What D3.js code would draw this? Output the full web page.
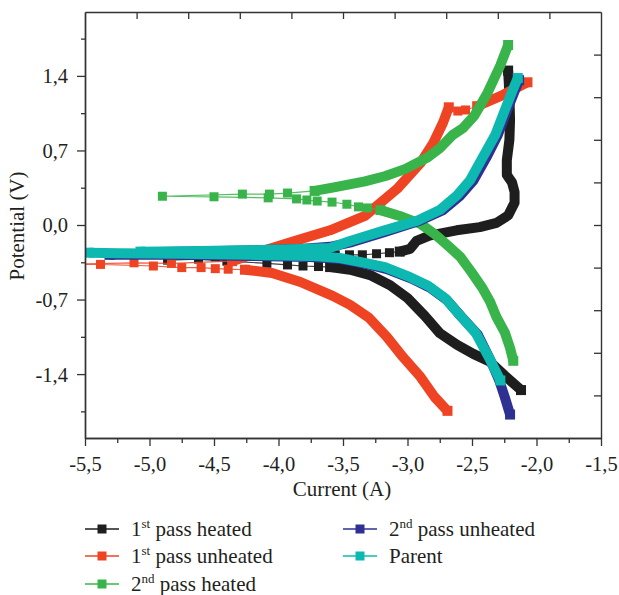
<!DOCTYPE html>
<html><head><meta charset="utf-8">
<script src="https://cdn.jsdelivr.net/npm/d3@7"></script>
<style>
html,body{margin:0;padding:0;background:#fff;}
svg{display:block;font-family:"Liberation Serif","Times New Roman",serif;}
</style>
</head><body>
<svg id="chart" width="619" height="595"></svg>
<script>
// ---------------- DATA (current log A, potential V) ----------------
const seriesNames = ["1st pass heated", "1st pass unheated", "2nd pass heated", "2nd pass unheated", "Parent"];

// 1st pass heated (black)
const heated1Cathodic = [[-2.12,-1.55],[-2.245,-1.415],[-2.36,-1.285],[-2.49,-1.21],[-2.615,-1.125],[-2.75,-1.015],[-2.865,-0.855],[-3.0,-0.685],[-3.135,-0.565],[-3.29,-0.47],[-3.445,-0.42],[-3.60,-0.395]];
const heated1Mid = [[-3.69,-0.39],[-3.81,-0.385],[-3.93,-0.375],[-4.09,-0.36],[-4.40,-0.34],[-4.62,-0.32],[-4.86,-0.33],[-4.49,-0.30],[-3.99,-0.29],[-3.56,-0.28],[-3.45,-0.28],[-3.35,-0.28],[-3.24,-0.27],[-3.14,-0.26]];
const heated1Anodic = [[-3.06,-0.25],[-2.98,-0.225],[-2.93,-0.15],[-2.83,-0.10],[-2.62,-0.05],[-2.44,-0.02],[-2.31,0.02],[-2.22,0.09],[-2.17,0.21],[-2.17,0.31],[-2.19,0.40],[-2.23,0.47],[-2.23,0.61],[-2.21,0.80],[-2.205,0.99],[-2.21,1.22],[-2.22,1.45]];

// 1st pass unheated (red)
const unheated1Cathodic = [[-2.69,-1.745],[-2.79,-1.615],[-2.90,-1.425],[-3.035,-1.24],[-3.16,-1.05],[-3.30,-0.87],[-3.445,-0.75],[-3.58,-0.665],[-3.83,-0.535],[-4.05,-0.45],[-4.26,-0.42]];
const unheated1Mid = [[-4.39,-0.415],[-4.49,-0.41],[-4.60,-0.40],[-4.75,-0.40],[-4.97,-0.385],[-5.38,-0.37],[-5.65,-0.37],[-5.12,-0.355],[-4.83,-0.36]];
const unheated1Anodic = [[-4.36,-0.34],[-4.10,-0.235],[-3.85,-0.14],[-3.60,-0.05],[-3.33,0.085],[-3.08,0.34],[-2.90,0.58],[-2.80,0.77],[-2.725,0.96],[-2.68,1.105]];
const unheated1Tip = [[-2.61,1.07],[-2.55,1.08]];
const unheated1Anodic2 = [[-2.46,1.115],[-2.28,1.21],[-2.07,1.34]];

// 2nd pass heated (green)
const heated2Cathodic = [[-2.18,-1.275],[-2.205,-1.155],[-2.245,-1.01],[-2.31,-0.865],[-2.36,-0.72],[-2.42,-0.59],[-2.50,-0.45],[-2.59,-0.30],[-2.69,-0.19],[-2.79,-0.085],[-2.90,0.01],[-3.06,0.085],[-3.21,0.14]];
const heated2Mid = [[-3.31,0.16],[-3.38,0.17],[-3.47,0.195],[-3.585,0.215],[-3.70,0.225],[-3.78,0.235],[-3.86,0.245],[-4.08,0.255],[-4.50,0.265],[-4.90,0.27],[-4.28,0.29],[-4.07,0.29],[-3.93,0.30]];
const heated2Anodic = [[-3.72,0.32],[-3.56,0.355],[-3.33,0.41],[-3.17,0.46],[-3.02,0.525],[-2.85,0.63],[-2.75,0.72],[-2.65,0.845],[-2.57,0.91],[-2.48,1.03],[-2.38,1.24],[-2.28,1.50],[-2.22,1.69]];

// 2nd pass unheated (blue)
const unheated2Cathodic = [[-2.205,-1.78],[-2.245,-1.62],[-2.29,-1.455],[-2.355,-1.275],[-2.455,-1.03],[-2.58,-0.865],[-2.695,-0.705],[-2.825,-0.59],[-2.965,-0.505],[-3.16,-0.415],[-3.32,-0.365],[-3.515,-0.32],[-3.755,-0.30],[-4.22,-0.29],[-4.76,-0.28],[-5.31,-0.28]];
const unheated2Anodic = [[-5.0,-0.255],[-4.45,-0.245],[-3.83,-0.225],[-3.60,-0.205],[-3.43,-0.16],[-3.175,-0.065],[-2.905,0.04],[-2.725,0.14],[-2.595,0.27],[-2.49,0.415],[-2.39,0.63],[-2.30,0.845],[-2.23,1.07],[-2.175,1.24],[-2.135,1.36]];

// Parent (cyan)
const parentCathodic = [[-2.28,-1.46],[-2.36,-1.265],[-2.47,-1.015],[-2.595,-0.845],[-2.71,-0.685],[-2.84,-0.57],[-2.98,-0.49],[-3.175,-0.395],[-3.33,-0.355],[-3.525,-0.31],[-3.755,-0.29],[-4.22,-0.28],[-4.76,-0.27],[-5.23,-0.265],[-5.47,-0.26]];
const parentAnodic = [[-5.07,-0.25],[-4.61,-0.245],[-4.14,-0.235],[-3.83,-0.225],[-3.60,-0.215],[-3.445,-0.15],[-3.19,-0.055],[-2.925,0.04],[-2.75,0.14],[-2.615,0.28],[-2.515,0.42],[-2.415,0.64],[-2.32,0.845],[-2.245,1.08],[-2.19,1.25],[-2.145,1.38]];

// Axis ticks
const xMajorTicks = [-5.5,-5.0,-4.5,-4.0,-3.5,-3.0,-2.5,-2.0,-1.5];
const xMinorTicks = [-5.25,-4.75,-4.25,-3.75,-3.25,-2.75,-2.25,-1.75];
const yMajorTicks = [-1.4,-0.7,0.0,0.7,1.4];
const yMinorTicks = [-1.75,-1.05,-0.35,0.35,1.05,1.75];
const xTopTicks = [-5.1,-4.7,-4.3,-3.9,-3.5,-3.1,-2.7,-2.3,-1.9];
const yRightTicks = [-1.6,-1.2,-0.8,-0.4,0.0,0.4,0.8,1.2,1.6];

// ---------------- CHART ----------------
const svg = d3.select("#chart");
const L = 85, R = 601, T = 12, B = 438;
const x = d3.scaleLinear().domain([-5.5,-1.5]).range([L,R]);
const y = d3.scaleLinear().domain([-2,2]).range([B,T]);
const axisColor = "#333";
const textColor = "#231f20";
const fmt = d => d.toFixed(1).replace(".", ",");

svg.append("defs").append("clipPath").attr("id","plotclip")
  .append("rect").attr("x",L).attr("y",T).attr("width",R-L).attr("height",B-T);

// series: runs alternate band / marker-only
const series = [
  {color:"#1e1e1e", runs:[heated1Cathodic, heated1Mid, heated1Anodic]},
  {color:"#ee4424", runs:[unheated1Cathodic, unheated1Mid, unheated1Anodic, unheated1Tip, unheated1Anodic2]},
  {color:"#38b44a", runs:[heated2Cathodic, heated2Mid, heated2Anodic]},
  {color:"#2e3192", runs:[unheated2Cathodic, [], unheated2Anodic]},
  {color:"#0db8b0", runs:[parentCathodic, [], parentAnodic]}
];

const line = d3.line().x(d => x(d[0])).y(d => y(d[1]));
const plot = svg.append("g").attr("clip-path","url(#plotclip)");
const BW = 10;   // band width
const MS = 9;    // sparse marker size
series.forEach(s => {
  const g = plot.append("g");
  const all = s.runs.flat();
  g.append("path").attr("d", line(all)).attr("fill","none")
    .attr("stroke", s.color).attr("stroke-width",1.2).attr("stroke-opacity",0.85);
  s.runs.forEach((run, i) => {
    if (i % 2 === 0) {
      if (run.length > 1) {
        g.append("path").attr("d", line(run)).attr("fill","none")
          .attr("stroke", s.color).attr("stroke-width", BW)
          .attr("stroke-linejoin","round").attr("stroke-linecap","butt");
        const ends = [run[0], run[run.length-1]];
        g.selectAll(null).data(ends).enter().append("rect")
          .attr("x", d => x(d[0]) - BW/2).attr("y", d => y(d[1]) - BW/2)
          .attr("width", BW).attr("height", BW).attr("fill", s.color);
      }
    } else {
      g.selectAll(null).data(run).enter().append("rect")
        .attr("x", d => x(d[0]) - MS/2).attr("y", d => y(d[1]) - MS/2)
        .attr("width", MS).attr("height", MS).attr("fill", s.color);
    }
  });
});

// ---------------- AXES ----------------
function styleAxis(g) {
  g.selectAll("path.domain").attr("stroke", axisColor).attr("stroke-width",1.4);
  g.selectAll(".tick line").attr("stroke", axisColor).attr("stroke-width",1.3);
  g.selectAll(".tick text").attr("fill", textColor)
    .attr("font-family",'"Liberation Serif","Times New Roman",serif').attr("font-size",20.5);
}
// bottom
const gxB = svg.append("g").attr("transform",`translate(0,${B})`)
  .call(d3.axisBottom(x).tickValues(xMajorTicks).tickSize(8).tickSizeOuter(0).tickFormat(fmt));
styleAxis(gxB);
gxB.selectAll(".tick text").attr("y",33).attr("dy",0);
const gxBm = svg.append("g").attr("transform",`translate(0,${B})`)
  .call(d3.axisBottom(x).tickValues(xMinorTicks).tickSize(5).tickSizeOuter(0).tickFormat(""));
styleAxis(gxBm);
// left
const gyL = svg.append("g").attr("transform",`translate(${L},0)`)
  .call(d3.axisLeft(y).tickValues(yMajorTicks).tickSize(8).tickSizeOuter(0).tickFormat(fmt));
styleAxis(gyL);
gyL.selectAll(".tick text").attr("x",-17).attr("dy","0.34em");
const gyLm = svg.append("g").attr("transform",`translate(${L},0)`)
  .call(d3.axisLeft(y).tickValues(yMinorTicks).tickSize(4).tickSizeOuter(0).tickFormat(""));
styleAxis(gyLm);
// top (ticks inward)
const gxT = svg.append("g").attr("transform",`translate(0,${T})`)
  .call(d3.axisBottom(x).tickValues(xTopTicks).tickSize(7).tickSizeOuter(0).tickFormat(""));
styleAxis(gxT);
// right (ticks inward)
const gyR = svg.append("g").attr("transform",`translate(${R},0)`)
  .call(d3.axisLeft(y).tickValues(yRightTicks).tickSize(7).tickSizeOuter(0).tickFormat(""));
styleAxis(gyR);

// titles
svg.append("text").attr("x",342).attr("y",496).attr("text-anchor","middle")
  .attr("font-size",21).attr("fill",textColor).text("Current (A)");
svg.append("text").attr("transform","translate(24,226) rotate(-90)").attr("text-anchor","middle")
  .attr("font-size",21).attr("fill",textColor).text("Potential (V)");

// ---------------- LEGEND ----------------
const legendPos = [[85,529],[85,556],[85,584],[343,529],[343,556]];
seriesNames.forEach((name, i) => {
  const [lx, ly] = legendPos[i];
  const c = series[i].color;
  const g = svg.append("g");
  g.append("line").attr("x1",lx).attr("x2",lx+34).attr("y1",ly).attr("y2",ly)
    .attr("stroke",c).attr("stroke-width",1.4);
  g.append("rect").attr("x",lx+17-4.5).attr("y",ly-4.5).attr("width",9).attr("height",9).attr("fill",c);
  const t = g.append("text").attr("x",lx+46).attr("y",ly+7).attr("font-size",21).attr("fill",textColor);
  const m = name.match(/^(\d)(st|nd|rd|th)(.*)$/);
  if (m) {
    t.append("tspan").text(m[1]);
    t.append("tspan").attr("font-size",13).attr("dy",-8).text(m[2]);
    t.append("tspan").attr("dy",8).text(m[3]);
  } else {
    t.text(name);
  }
});
</script>
</body></html>
